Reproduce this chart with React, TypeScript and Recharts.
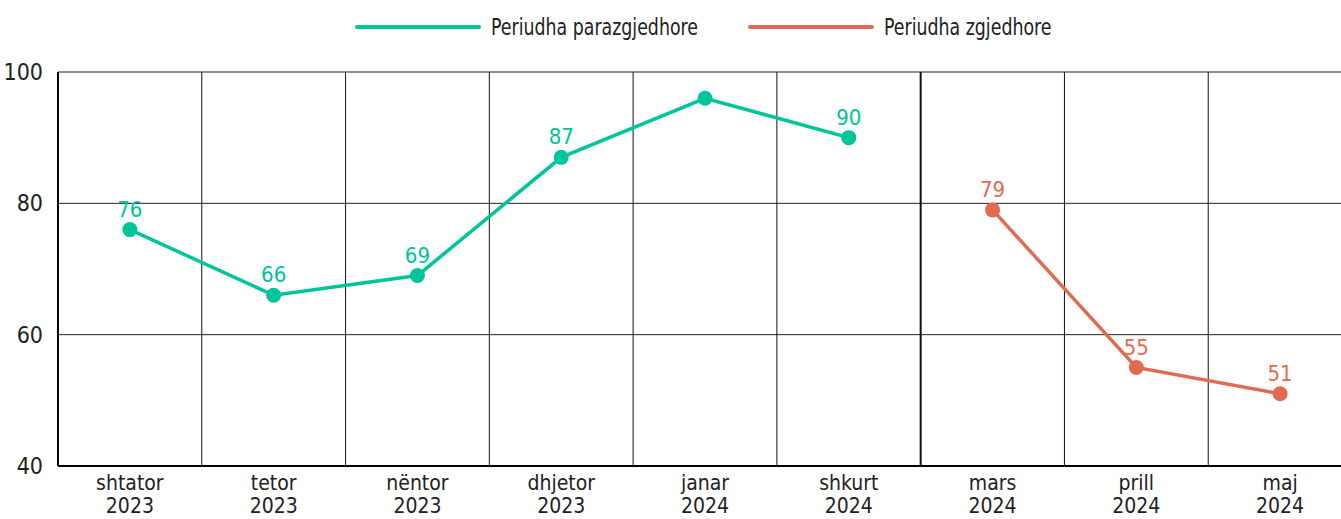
import React from 'react'
import { LineChart, Line, XAxis, YAxis, CartesianGrid, LabelList } from 'recharts'

const months = ['shtator', 'tetor', 'nëntor', 'dhjetor', 'janar', 'shkurt', 'mars', 'prill', 'maj']
const years = ['2023', '2023', '2023', '2023', '2024', '2024', '2024', '2024', '2024']
const preElection = [76, 66, 69, 87, 96, 90, null, null, null]
const election = [null, null, null, null, null, null, 79, 55, 51]
const hiddenLabels = [4]
const yTicks = [40, 60, 80, 100]
// boundary between the two periods (after "shkurt")
const periodSplit = 5

const GREEN = '#00c49a'
const ORANGE = '#e16b52'
const FONT = "'DejaVu Sans Condensed', 'DejaVu Sans', sans-serif"
const STRETCH = 'condensed'

const data = months.map((m, i) => ({
  name: m,
  year: years[i],
  pre: preElection[i],
  el: election[i],
}))

const W = 1352
const H = 519
const LEFT = 58
const TOP = 72
const BOTTOM = 53
const band = (W - LEFT) / months.length

function MonthTick({ x, y, payload, index }: any) {
  return (
    <text x={x} y={y} textAnchor="middle" fill="#222" fontSize={21} fontFamily={FONT} style={{ fontStretch: STRETCH }}>
      <tspan x={x} dy={16}>{payload.value}</tspan>
      <tspan x={x} dy={23}>{years[index]}</tspan>
    </text>
  )
}

function makeLabel(color: string) {
  return (props: any) => {
    const { x, y, value, index } = props
    if (value == null || hiddenLabels.includes(index)) return null
    return (
      <text x={x} y={y - 13} textAnchor="middle" fill={color} fontSize={22} fontFamily={FONT} style={{ fontStretch: STRETCH }}>
        {value}
      </text>
    )
  }
}

function VLine(props: any) {
  const { x1, y1, x2, y2, index } = props
  return <line x1={x1} y1={y1} x2={x2} y2={y2} stroke="#111" strokeWidth={index === periodSplit ? 2 : 1} />
}

const legendItems = [
  { label: 'Periudha parazgjedhore', color: GREEN, left: 355 },
  { label: 'Periudha zgjedhore', color: ORANGE, left: 748 },
]

function LegendBar() {
  return (
    <>
      {legendItems.map((it) => (
        <div
          key={it.label}
          style={{
            position: 'absolute',
            top: 12,
            left: it.left,
            display: 'flex',
            alignItems: 'center',
            fontFamily: FONT,
            fontStretch: STRETCH,
            fontSize: 23,
            color: '#222',
            lineHeight: '30px',
            whiteSpace: 'nowrap',
          }}
        >
          <span style={{ display: 'inline-block', width: 126, height: 4, borderRadius: 2, background: it.color, marginRight: 10 }} />
          <span style={{ display: 'inline-block', transform: 'scaleX(0.84)', transformOrigin: 'left center' }}>{it.label}</span>
        </div>
      ))}
    </>
  )
}

export default function App() {
  return (
    <div style={{ position: 'absolute', left: 0, top: 0, width: 1341, height: H, overflow: 'hidden', background: '#fff' }}>
      <LineChart width={W} height={H} data={data} margin={{ top: TOP, right: 0, bottom: 0, left: 0 }}>
        <CartesianGrid
          stroke="#222"
          strokeWidth={1}
          vertical={<VLine />}
          verticalCoordinatesGenerator={({ offset }: any) =>
            months.slice(1).map((_, i) => offset.left + (i + 1) * (offset.width / months.length))
          }
        />
        <XAxis
          dataKey="name"
          interval={0}
          padding={{ left: band / 2, right: band / 2 }}
          height={BOTTOM}
          tick={<MonthTick />}
          tickLine={false}
          axisLine={{ stroke: '#000', strokeWidth: 2 }}
        />
        <YAxis
          domain={[40, 100]}
          ticks={yTicks}
          width={LEFT}
          tickLine={false}
          tickMargin={9}
          axisLine={{ stroke: '#000', strokeWidth: 2 }}
          tick={{ fill: '#222', fontSize: 23, fontFamily: FONT, style: { fontStretch: STRETCH } }}
        />
        <Line
          dataKey="pre"
          stroke={GREEN}
          strokeWidth={3.5}
          dot={{ r: 7.5, fill: GREEN, stroke: GREEN, strokeWidth: 0 }}
          connectNulls={false}
          isAnimationActive={false}
        >
          <LabelList dataKey="pre" content={makeLabel(GREEN)} />
        </Line>
        <Line
          dataKey="el"
          stroke={ORANGE}
          strokeWidth={3.5}
          dot={{ r: 7.5, fill: ORANGE, stroke: ORANGE, strokeWidth: 0 }}
          connectNulls={false}
          isAnimationActive={false}
        >
          <LabelList dataKey="el" content={makeLabel(ORANGE)} />
        </Line>
      </LineChart>
      <LegendBar />
    </div>
  )
}
